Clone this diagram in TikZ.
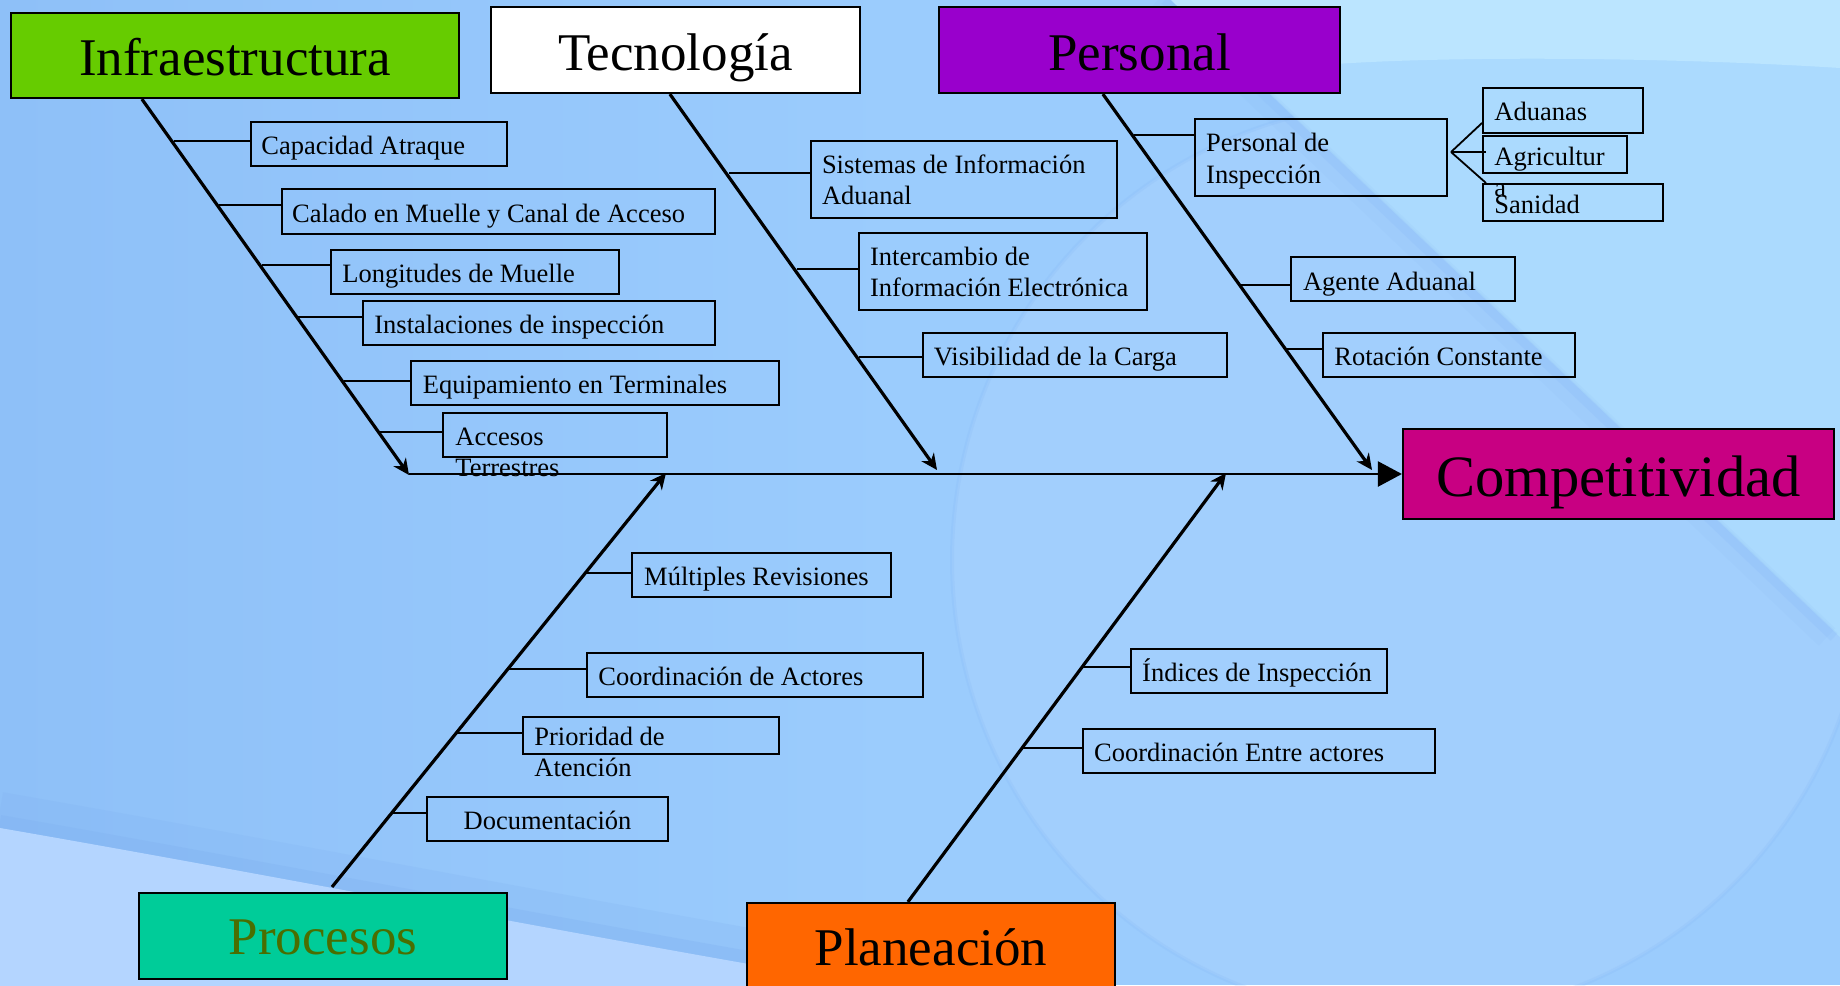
\documentclass[tikz,border=0pt]{standalone}
\usepackage{fontspec}
\setmainfont{Liberation Serif}
\usetikzlibrary{arrows.meta,fit}
\definecolor{bgbase}{HTML}{9BCCFD}
\definecolor{bgleft}{HTML}{8EC0F8}
\definecolor{bglight}{HTML}{ABDAFE}
\definecolor{bglighter}{HTML}{BBE5FF}
\definecolor{bgdark}{HTML}{7FB0F0}
\definecolor{bgbl}{HTML}{B4D5FF}
\definecolor{infraG}{HTML}{66CC00}
\definecolor{persP}{HTML}{9900CC}
\definecolor{compM}{HTML}{C80082}
\definecolor{procG}{HTML}{00CC99}
\definecolor{procT}{HTML}{4A6E00}
\definecolor{planO}{HTML}{FF6600}
\begin{document}
\begin{tikzpicture}[x=0.5pt,y=-0.5pt,
  sbox/.style={draw=black, line width=1pt, inner sep=0pt},
  hbox/.style={draw=black, line width=1.1pt, inner sep=0pt},
  stext/.style={inner sep=0pt, anchor=base west, font=\fontsize{13.25pt}{15.75pt}\selectfont},
  htext/.style={inner sep=0pt, anchor=base, font=\fontsize{26.5pt}{30pt}\selectfont},
  bone/.style={line width=1.6pt, -{Stealth[length=8pt,width=7.5pt]}},
  spine/.style={line width=1.2pt, -{Triangle[length=12pt,width=12.5pt]}},
  branch/.style={line width=0.9pt}]
\useasboundingbox (0,0) rectangle (1840,985);
% ---------- background ----------
\fill[bgbase] (0,0) rectangle (1840,985);
\shade[left color=bgleft, right color=bgbase] (0,0) rectangle (900,985);
\fill[white, opacity=0.07] (1410,560) circle (458);
\draw[bgdark, opacity=0.15, line width=2pt] (1410,560) circle (458);
\fill[bglight] (1171,0) -- (1840,0) -- (1840,637) -- cycle;
\draw[bgdark, opacity=0.15, line width=5pt] (1165,0) -- (1834,637);
\draw[bgdark, opacity=0.08, line width=12pt] (1158,0) -- (1827,637);
\fill[bglighter] (1171,0) -- (1840,0) -- (1840,68) .. controls (1650,56) and (1420,56) .. (1310,66) -- (1240,66) -- cycle;
\draw[bgdark, opacity=0.2, line width=18pt] (0,810) .. controls (300,862) and (600,922) .. (900,972);
\draw[bgdark, opacity=0.3, line width=7pt] (0,822) .. controls (300,874) and (600,934) .. (900,984);
\fill[bgbl] (0,828) .. controls (300,880) and (600,940) .. (900,990) -- (0,990) -- cycle;
% ---------- header boxes ----------
\node[hbox, fill=infraG, fit={(11,13) (459,98)}] (infra) {};
\node[htext] (tinfra) at (235,75) {Infraestructura};
\node[hbox, fill=white, fit={(491,7) (860,93)}] (tecno) {};
\node[htext] (ttecno) at (675.5,70) {Tecnología};
\node[hbox, fill=persP, fit={(939,7) (1340,93)}] (pers) {};
\node[htext] (tpers) at (1139.5,70) {Personal};
\node[hbox, fill=compM, fit={(1403,429) (1834,519)}] (comp) {};
\node[htext, font=\fontsize{29.3pt}{33pt}\selectfont] (tcomp) at (1618.5,496) {Competitividad};
\node[hbox, fill=procG, fit={(139,893) (507,979)}] (proc) {};
\node[htext, text=procT] (tproc) at (323,954) {Procesos};
\node[hbox, fill=planO, fit={(747,903) (1115,992)}] (plan) {};
\node[htext] (tplan) at (931,965) {Planeación};
% ---------- spine and bones ----------
\coordinate (s0) at (409,474);
\draw[spine] (s0) -- (comp.west);
\coordinate (e-infra) at (409,475);
\coordinate (e-tecno) at (937,470);
\coordinate (e-pers) at (1372,470);
\coordinate (s-proc) at (332,887);
\coordinate (e-proc) at (666,473);
\coordinate (e-plan) at (1226,473);
\draw[bone] ([xshift=66pt]infra.south west) -- (e-infra);
\draw[bone] ([xshift=90pt]tecno.south west) -- (e-tecno);
\draw[bone] ([xshift=82.5pt]pers.south west) -- (e-pers);
\draw[bone] (s-proc) -- (e-proc);
\draw[bone] ([xshift=81pt]plan.north west) -- (e-plan);
% ---------- Infraestructura ----------
\node[sbox, fit={(250.6,122) (507,166)}] (bcap) {};
\node[stext] (tcap) at (261,154) {Capacidad Atraque};
\node[sbox, fit={(281.7,189.3) (714.8,234)}] (bcal) {};
\node[stext] (tcal) at (291.7,222.5) {Calado en Muelle y Canal de Acceso};
\node[sbox, fit={(331,249.7) (619,294)}] (blon) {};
\node[stext] (tlon) at (342,282.5) {Longitudes de Muelle};
\node[sbox, fit={(363,301) (714.8,344.7)}] (bins) {};
\node[stext] (tins) at (374,333.3) {Instalaciones de inspección};
\node[sbox, fit={(411.4,361) (778.8,405.3)}] (bequ) {};
\node[stext] (tequ) at (422.5,393.5) {Equipamiento en Terminales};
\node[sbox, fit={(443,412.7) (667,456.7)}] (bacc) {};
\node[stext] (tacc1) at (455,445) {Accesos};
\node[stext] (tacc2) at (455,476.5) {Terrestres};
\coordinate (pcap) at (173.5,141);
\coordinate (pcal) at (218.5,204.7);
\coordinate (plon) at (261.5,265.3);
\coordinate (pins) at (298,316.7);
\coordinate (pequ) at (343.5,380.7);
\coordinate (pacc) at (380,432.3);
\draw[branch] (pcap) -- (pcap -| bcap.west);
\draw[branch] (pcal) -- (pcal -| bcal.west);
\draw[branch] (plon) -- (plon -| blon.west);
\draw[branch] (pins) -- (pins -| bins.west);
\draw[branch] (pequ) -- (pequ -| bequ.west);
\draw[branch] (pacc) -- (pacc -| bacc.west);
% ---------- Tecnologia ----------
\node[sbox, fit={(811,141) (1117,218)}] (bsis) {};
\node[stext] (tsis1) at (821.6,173.3) {Sistemas de Información};
\node[stext] (tsis2) at (821.6,204.5) {Aduanal};
\node[sbox, fit={(859,233) (1147,310)}] (bint) {};
\node[stext] (tint1) at (869.7,265) {Intercambio de};
\node[stext] (tint2) at (869.7,296.5) {Información Electrónica};
\node[sbox, fit={(923,333) (1227,377)}] (bvis) {};
\node[stext] (tvis) at (933.5,365) {Visibilidad de la Carga};
\coordinate (psis) at (729,173);
\coordinate (pint) at (796.5,268.7);
\coordinate (pvis) at (858.5,356.7);
\draw[branch] (psis) -- (psis -| bsis.west);
\draw[branch] (pint) -- (pint -| bint.west);
\draw[branch] (pvis) -- (pvis -| bvis.west);
% ---------- Personal ----------
\node[sbox, fit={(1195,119) (1447,196)}] (bpin) {};
\node[stext] (tpin1) at (1205.8,151.7) {Personal de};
\node[stext] (tpin2) at (1205.8,183.3) {Inspección};
\node[sbox, fit={(1483,88) (1643,133)}] (badu) {};
\node[stext] (tadu) at (1494,120.7) {Aduanas};
\node[sbox, fit={(1483,136) (1627,173)}] (bagr) {};
\node[stext] (tagr1) at (1494,165) {Agricultur};
\node[stext] (tagr2) at (1494,196.5) {a};
\node[sbox, fit={(1483,184) (1663,221)}] (bsan) {};
\node[stext] (tsan) at (1494,213.3) {Sanidad};
\coordinate (fan) at (1451,152);
\draw[branch] (fan) -- ([yshift=5.5pt]badu.south west);
\draw[branch] (fan) -- ([xshift=2pt]fan -| bagr.west);
\draw[branch] (fan) -- ([xshift=2pt]bsan.north west);
\node[sbox, fit={(1291,257) (1515,301)}] (bage) {};
\node[stext] (tage) at (1302.6,290) {Agente Aduanal};
\node[sbox, fit={(1323,333) (1575,377)}] (brot) {};
\node[stext] (trot) at (1334,365) {Rotación Constante};
\coordinate (ppin) at (1133.5,135);
\coordinate (page) at (1240.5,285);
\coordinate (prot) at (1285.5,348.7);
\draw[branch] (ppin) -- (ppin -| bpin.west);
\draw[branch] (page) -- (page -| bage.west);
\draw[branch] (prot) -- (prot -| brot.west);
% ---------- Procesos ----------
\node[sbox, fit={(632,553) (891,597)}] (bmul) {};
\node[stext] (tmul) at (643.8,585) {Múltiples Revisiones};
\node[sbox, fit={(587,653) (923,697)}] (bcoa) {};
\node[stext] (tcoa) at (598,685) {Coordinación de Actores};
\node[sbox, fit={(523,717) (779,754)}] (bpri) {};
\node[stext] (tpri1) at (534,745) {Prioridad de};
\node[stext] (tpri2) at (534,776.5) {Atención};
\node[sbox, fit={(427,797) (668,841)}] (bdoc) {};
\node[stext, anchor=base] (tdoc) at (547.5,829.3) {Documentación};
\coordinate (pmul) at (586,572.7);
\coordinate (pcoa) at (509,668.7);
\coordinate (ppri) at (456.5,732.7);
\coordinate (pdoc) at (392,812.7);
\draw[branch] (pmul) -- (pmul -| bmul.west);
\draw[branch] (pcoa) -- (pcoa -| bcoa.west);
\draw[branch] (ppri) -- (ppri -| bpri.west);
\draw[branch] (pdoc) -- (pdoc -| bdoc.west);
% ---------- Planeacion ----------
\node[sbox, fit={(1131,649) (1387,693)}] (bind) {};
\node[stext] (tind) at (1141.8,681.7) {Índices de Inspección};
\node[sbox, fit={(1083,729) (1435,773)}] (bcea) {};
\node[stext] (tcea) at (1093.7,761.7) {Coordinación Entre actores};
\coordinate (pind) at (1083,667.3);
\coordinate (pcea) at (1022,748.3);
\draw[branch] (pind) -- (pind -| bind.west);
\draw[branch] (pcea) -- (pcea -| bcea.west);
\end{tikzpicture}
\end{document}
